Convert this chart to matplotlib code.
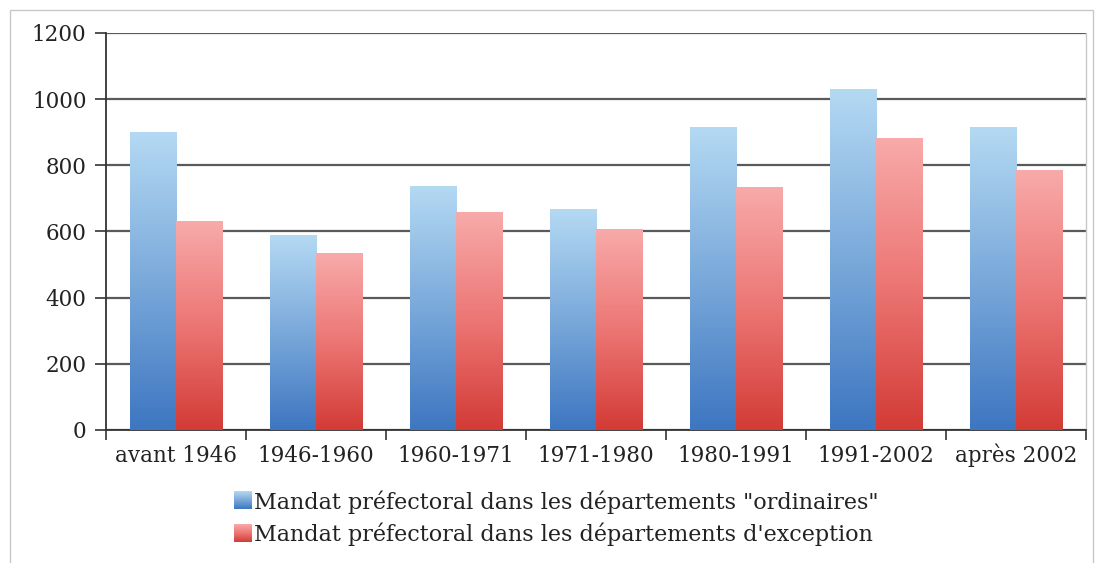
import numpy as np
import matplotlib
matplotlib.use("Agg")
import matplotlib.pyplot as plt
from matplotlib.colors import LinearSegmentedColormap
from matplotlib.patches import Rectangle, Patch
from matplotlib.legend_handler import HandlerBase
from matplotlib.image import BboxImage
from matplotlib.transforms import Bbox, TransformedBbox

categories = ["avant 1946", "1946-1960", "1960-1971", "1971-1980",
              "1980-1991", "1991-2002", "après 2002"]
ordinaires = [900, 589, 735, 665, 915, 1029, 915]
exception = [630, 535, 657, 605, 734, 882, 783]
series_labels = ['Mandat préfectoral dans les départements "ordinaires"',
                 "Mandat préfectoral dans les départements d'exception"]
yticks = [0, 200, 400, 600, 800, 1000, 1200]

plt.rcParams['font.family'] = ['DejaVu Serif']

blue_cmap = LinearSegmentedColormap.from_list("b", ["#3d76c1", "#7aa9da", "#b4d9f3"])
red_cmap = LinearSegmentedColormap.from_list("r", ["#d33b36", "#ec7674", "#f8aaaa"])

fig = plt.figure(figsize=(10.95, 5.63), dpi=100)
ax = fig.add_axes([106/1095, 1-430/563, (1086-106)/1095, (430-33)/563])

x = np.arange(len(categories))
w = 0.332
bars_b = ax.bar(x - w/2, ordinaires, w, color="none", edgecolor="none", zorder=3)
bars_r = ax.bar(x + w/2, exception, w, color="none", edgecolor="none", zorder=3)

grad = np.linspace(0, 1, 256).reshape(-1, 1)
for bars, cmap in ((bars_b, blue_cmap), (bars_r, red_cmap)):
    for b in bars:
        x0, y0 = b.get_x(), b.get_y()
        bw, bh = b.get_width(), b.get_height()
        ax.imshow(grad, cmap=cmap, origin="lower", aspect="auto",
                  extent=(x0, x0 + bw, y0, y0 + bh), interpolation="bilinear",
                  zorder=3)

ax.set_xlim(-0.5, len(categories) - 0.5)
ax.set_ylim(0, 1200)
ax.set_yticks(yticks)
ax.set_yticklabels([str(t) for t in yticks], fontsize=15.5, color="#222222")
ax.set_xticks(x)
ax.set_xticklabels(categories, fontsize=15.5, color="#222222", va="baseline")
ax.set_xticks(np.arange(-0.5, len(categories), 1), minor=True)
ax.tick_params(axis="x", which="major", length=0, pad=23)
ax.tick_params(axis="x", which="minor", length=7, width=1.2, color="#333333")
ax.tick_params(axis="y", length=8, width=1.2, color="#333333", pad=6)

ax.grid(axis="y", color="#5a5a5a", linewidth=1.6, zorder=1)
ax.set_axisbelow(True)
for s in ("left", "bottom"):
    ax.spines[s].set_color("#333333")
    ax.spines[s].set_linewidth(1.3)
ax.spines["top"].set_visible(False)
ax.spines["right"].set_color("#c8c8c8")
ax.spines["right"].set_linewidth(1.0)


class GradHandler(HandlerBase):
    def __init__(self, cmap):
        super().__init__()
        self.cmap = cmap

    def create_artists(self, legend, orig_handle, xdescent, ydescent,
                       width, height, fontsize, trans):
        side = height * 1.1
        bb = Bbox.from_bounds(-xdescent + width - side, -ydescent - (side - height) / 2, side, side)
        tb = TransformedBbox(bb, trans)
        im = BboxImage(tb, cmap=self.cmap, interpolation="bilinear", origin="lower")
        im.set_data(grad)
        im.set_clim(0, 1)
        return [im]


h1 = Patch(label=series_labels[0])
h2 = Patch(label=series_labels[1])
fig.legend([h1, h2], series_labels, loc="center",
           bbox_to_anchor=(555/1095, 1-518/563), frameon=False, fontsize=16,
           handler_map={h1: GradHandler(blue_cmap), h2: GradHandler(red_cmap)},
           handlelength=0.85, handletextpad=0.12, labelspacing=0.4,
           labelcolor="#222222")

fig.add_artist(Rectangle((10/1095, -0.05), (1093-10)/1095, 1 + 0.05 - 10/563,
                         transform=fig.transFigure, facecolor="none",
                         edgecolor="#c8c8c8", linewidth=1.0))

fig.savefig("out.png", dpi=100)
